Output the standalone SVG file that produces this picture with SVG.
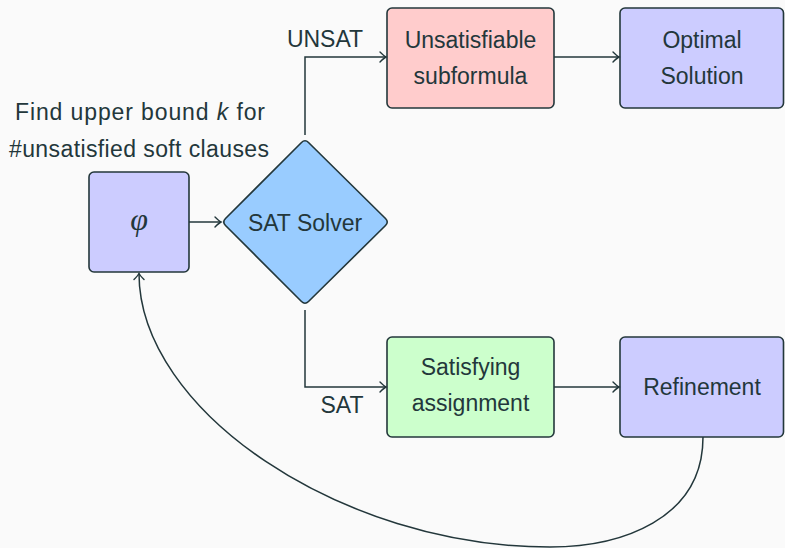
<svg xmlns="http://www.w3.org/2000/svg" width="785" height="548" viewBox="0 0 785 548">
  <style>
    .node { stroke: #23373b; stroke-width: 1.6; }
    .blue { fill: #ccccff; }
    .red { fill: #ffcccc; }
    .green { fill: #ccffcc; }
    .sky { fill: #99ccff; }
    .label { font-family: "Liberation Sans", Arial, sans-serif; font-size: 23px; fill: #23373b; text-anchor: middle; }
    .edge { fill: none; stroke: #23373b; stroke-width: 1.5; marker-end: url(#tip); }
  </style>
  <defs>
    <marker id="tip" viewBox="-8 -6 10 12" markerWidth="10" markerHeight="12" refX="0" refY="0" orient="auto" markerUnits="userSpaceOnUse">
      <path d="M-6,-5 Q-2,-1 0,0 Q-2,1 -6,5" fill="none" stroke="#23373b" stroke-width="1.4" stroke-linecap="round"/>
    </marker>
  </defs>

  <rect width="785" height="548" fill="#fafafa"/>

  <!-- note above the formula -->
  <g id="note">
    <text class="label" x="140" y="120" textLength="250" lengthAdjust="spacing">Find upper bound <tspan font-style="italic">k</tspan> for</text>
    <text class="label" x="139" y="157" textLength="260" lengthAdjust="spacing">#unsatisfied soft clauses</text>
  </g>

  <g id="phi">
    <rect class="node blue" x="89" y="172" width="100" height="100" rx="5"/>
    <text x="139" y="230" font-family="'Liberation Serif', serif" font-style="italic" font-size="32" fill="#23373b" text-anchor="middle">φ</text>
  </g>

  <g id="solver">
    <path class="node sky" d="M301.5,142.5 Q305,139 308.5,142.5 L385.5,218.5 Q389,222 385.5,225.5 L308.5,301.5 Q305,305 301.5,301.5 L225.5,225.5 Q222,222 225.5,218.5 Z"/>
    <text class="label" x="305" y="231">SAT Solver</text>
  </g>

  <g id="unsat-core">
    <rect class="node red" x="387" y="8" width="167" height="100" rx="5"/>
    <text class="label" x="470.5" y="48">Unsatisfiable</text>
    <text class="label" x="470.5" y="84">subformula</text>
  </g>

  <g id="optimal">
    <rect class="node blue" x="620" y="8" width="163.5" height="100" rx="5"/>
    <text class="label" x="702" y="48">Optimal</text>
    <text class="label" x="702" y="84">Solution</text>
  </g>

  <g id="assignment">
    <rect class="node green" x="387" y="337" width="167" height="100" rx="5"/>
    <text class="label" x="470.5" y="375">Satisfying</text>
    <text class="label" x="470.5" y="411">assignment</text>
  </g>

  <g id="refinement">
    <rect class="node blue" x="620" y="337" width="163.5" height="100" rx="5"/>
    <text class="label" x="702" y="395">Refinement</text>
  </g>

  <g id="edges">
    <path class="edge" d="M189,222 L221,222"/>
    <path class="edge" d="M305,135 L305,57 L386,57"/>
    <path class="edge" d="M305,310 L305,387 L386,387"/>
    <path class="edge" d="M554,57 L619,57"/>
    <path class="edge" d="M554,387 L619,387"/>
    <path class="edge" d="M703,437 C703,520 620,547 550,547 C340,547 139,410 139,273.5"/>
    <text class="label" x="325" y="47">UNSAT</text>
    <text class="label" x="342" y="413">SAT</text>
  </g>
</svg>
